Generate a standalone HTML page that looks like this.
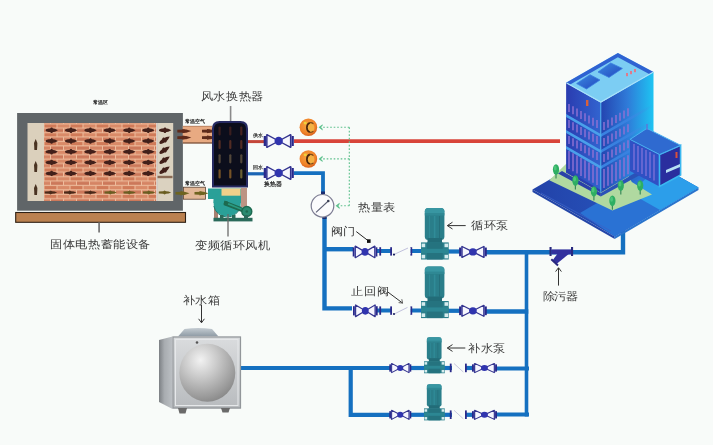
<!DOCTYPE html>
<html><head><meta charset="utf-8">
<style>
html,body{margin:0;padding:0;background:#f8fbf9;}
body{width:713px;height:445px;overflow:hidden;font-family:"Liberation Sans",sans-serif;}
svg{display:block;filter:blur(0.3px);}
text{font-family:"Liberation Sans",sans-serif;}
</style></head><body>
<svg width="713" height="445" viewBox="0 0 713 445">
<defs>
  <pattern id="brick" x="44" y="123.5" width="26" height="8.8" patternUnits="userSpaceOnUse">
    <rect width="26" height="8.8" fill="#eebc9c"/>
    <rect x="0.5" y="0.9" width="12" height="3.3" fill="#d07a58"/>
    <rect x="13.5" y="0.9" width="12" height="3.3" fill="#d98a68"/>
    <rect x="-6" y="5.3" width="12" height="3.3" fill="#d58464"/>
    <rect x="7" y="5.3" width="12" height="3.3" fill="#cc785a"/>
    <rect x="20" y="5.3" width="12" height="3.3" fill="#d58464"/>
  </pattern>
  <g id="harrow">
    <path d="M-6,0 C-6,-1.6 -2.5,-1.9 0,-2 C2.2,-2 4.6,-1.2 6.3,0 C4.6,1.2 2.2,2 0,2 C-2.5,1.9 -6,1.6 -6,0 Z"/>
    <rect x="-1.1" y="-2.7" width="2.2" height="5.4" rx="0.8"/>
  </g>
  <g id="harrow2">
    <path d="M-6,-1 L-1.5,-1.2 L-0.3,-2 L1.2,-1.2 L3.8,-1 L6.3,0 L3.8,1 L1.2,1.2 L-0.3,2 L-1.5,1.2 L-6,1 Z" />
  </g>
  <g id="valve">
    <rect x="0" y="-5" width="2.3" height="10" fill="#28288a"/>
    <rect x="27.8" y="-5" width="2.3" height="10" fill="#28288a"/>
    <rect x="2.2" y="-6.4" width="2" height="12.8" fill="#6c6cc4"/>
    <rect x="25.9" y="-6.4" width="2" height="12.8" fill="#6c6cc4"/>
    <path d="M3.2,-6.3 L15,0 L3.2,6.3 Z M26.9,-6.3 L15,0 L26.9,6.3 Z" fill="#f6f6fe" stroke="#34348e" stroke-width="1.4" stroke-linejoin="round"/>
    <circle cx="15" cy="0" r="4.2" fill="#3034ae"/>
  </g>
  <g id="pump">
    <rect x="3.8" y="0" width="19.6" height="32" rx="3.5" fill="#2a7e8a"/>
    <rect x="3.8" y="0" width="19.6" height="7" rx="3.5" fill="#3896a2"/>
    <rect x="3.8" y="5" width="19.6" height="2.5" fill="#2f8894"/>
    <rect x="8" y="8" width="1" height="22" fill="#2f8a96"/>
    <rect x="12.8" y="8" width="1.6" height="22" fill="#308c98"/>
    <rect x="18" y="8" width="1" height="22" fill="#246f7b"/>
    <rect x="6.5" y="30" width="14.5" height="5" fill="#226c78"/>
    <rect x="0" y="34.4" width="27.7" height="17.1" fill="#2a7f8b"/>
    <rect x="6" y="34.4" width="15.7" height="17.1" fill="#25737f"/>
    <rect x="0" y="40.8" width="27.7" height="4.2" fill="#2c8793"/>
    <rect x="0.6" y="35.6" width="3.6" height="3.6" fill="#d6ecee"/>
    <rect x="0.6" y="46.8" width="3.6" height="3.6" fill="#d6ecee"/>
    <rect x="23.5" y="35.6" width="3.6" height="3.6" fill="#d6ecee"/>
    <rect x="23.5" y="46.8" width="3.6" height="3.6" fill="#d6ecee"/>
  </g>
</defs>

<!-- ============ STORAGE UNIT ============ -->
<text x="93.2" y="103.5" font-size="5.2" font-weight="bold" fill="#111">常温区</text>
<rect x="17.1" y="113" width="165.8" height="97.7" fill="#606568"/>
<rect x="27.5" y="123" width="16.5" height="78" fill="#dbd0bc"/>
<rect x="44" y="123" width="112.5" height="78" fill="url(#brick)"/>
<rect x="156.3" y="123" width="1.4" height="78" fill="#fbf3ea"/>
<rect x="157.7" y="123" width="15.5" height="78" fill="#dbd2c0"/>
<!-- left arrows -->
<g fill="#4a3322">
  <path d="M35.7,139 L37.4,143 L37,150 L34.4,150 L34,143 Z"/>
  <path d="M35.7,161 L37.4,165 L37,172 L34.4,172 L34,165 Z"/>
  <path d="M35.7,184 L37.4,188 L37,195 L34.4,195 L34,188 Z"/>
</g>
<!-- brick arrows -->
<g fill="#42201a">
  <use href="#harrow" x="51.6" y="130.3"/><use href="#harrow" x="71" y="130.3"/><use href="#harrow" x="90.4" y="130.3"/><use href="#harrow" x="109.8" y="130.3"/><use href="#harrow" x="129.2" y="130.3"/><use href="#harrow" x="148.3" y="130.3"/>
  <use href="#harrow" x="51.6" y="141"/><use href="#harrow" x="71" y="141"/><use href="#harrow" x="90.4" y="141"/><use href="#harrow" x="109.8" y="141"/><use href="#harrow" x="129.2" y="141"/><use href="#harrow" x="148.3" y="141"/>
  <use href="#harrow" x="51.6" y="151.8"/><use href="#harrow" x="71" y="151.8"/><use href="#harrow" x="90.4" y="151.8"/><use href="#harrow" x="109.8" y="151.8"/><use href="#harrow" x="129.2" y="151.8"/><use href="#harrow" x="148.3" y="151.8"/>
  <use href="#harrow" x="51.6" y="162.4"/><use href="#harrow" x="71" y="162.4"/><use href="#harrow" x="90.4" y="162.4"/><use href="#harrow" x="109.8" y="162.4"/><use href="#harrow" x="129.2" y="162.4"/><use href="#harrow" x="148.3" y="162.4"/>
  <use href="#harrow" x="51.6" y="173.4"/><use href="#harrow" x="71" y="173.4"/><use href="#harrow" x="90.4" y="173.4"/><use href="#harrow" x="109.8" y="173.4"/><use href="#harrow" x="129.2" y="173.4"/><use href="#harrow" x="148.3" y="173.4"/>
  <use href="#harrow" x="165" y="130.3"/>
  <use href="#harrow" transform="translate(164.5,140) rotate(-35)"/>
  <use href="#harrow" transform="translate(164.5,150) rotate(-35)"/>
  <use href="#harrow" transform="translate(164.5,160) rotate(-35)"/>
  <use href="#harrow" transform="translate(164.5,170) rotate(-35)"/>
</g>
<rect x="157.5" y="175.8" width="15" height="2.4" fill="#8a6a55"/>
<g fill="#4a2a1a">
  <use href="#harrow2" x="50.8" y="192.5"/><use href="#harrow2" x="70" y="192.5"/><use href="#harrow2" x="90.5" y="192.5"/>
</g>
<g fill="#6a5e22">
  <use href="#harrow2" x="110.5" y="192.5"/><use href="#harrow2" x="129.5" y="192.5"/><use href="#harrow2" x="149" y="192.5"/><use href="#harrow2" x="164.8" y="192.5"/>
</g>
<!-- base -->
<rect x="15.7" y="212.5" width="169.8" height="9.8" fill="#bb8150" stroke="#2e2014" stroke-width="1.1"/>
<line x1="99.1" y1="222.5" x2="99.1" y2="232.6" stroke="#7a7a7a" stroke-width="1.8"/>
<text fill="#3a3a3a" transform="translate(50.18,248.02) scale(1,0.9)" font-size="12.24">固体电热蓄能设备</text>

<!-- ducts -->
<defs>
  <g id="darrow"><path d="M-7,-1.3 L2,-1.6 L7,0 L2,1.6 L-7,1.3 Z"/><path d="M-2,-2.2 L1,-1.5 L1,1.5 L-2,2.2 Z"/></g>
</defs>
<text x="185" y="122.5" font-size="5.3" font-weight="bold" fill="#111">常温空气</text>
<rect x="182.8" y="126" width="29.5" height="17.3" fill="#e8aa82"/>
<line x1="182.8" y1="126.3" x2="212.3" y2="126.3" stroke="#b07a5a" stroke-width="0.8"/>
<line x1="182.8" y1="143" x2="212.3" y2="143" stroke="#5a3422" stroke-width="1"/>
<g fill="#5e2a1a">
  <use href="#darrow" x="184.3" y="131.1"/><use href="#darrow" x="184.3" y="137.6"/>
  <use href="#darrow" x="209" y="131.1"/><use href="#darrow" x="209" y="137.6"/>
</g>
<text x="185.4" y="184.5" font-size="5.3" font-weight="bold" fill="#111">常温空气</text>
<rect x="183.4" y="187.2" width="22" height="12" fill="#e2b898" stroke="#5a4030" stroke-width="0.8"/>
<g fill="#6e6420">
  <use href="#darrow" x="182.5" y="193.3"/><use href="#darrow" x="201.5" y="193.3"/>
</g>

<!-- heat exchanger -->
<text fill="#3a3a3a" transform="translate(200.88,99.83) scale(1,0.9)" font-size="12.43">风水换热器</text>
<line x1="230.6" y1="106" x2="230.6" y2="121" stroke="#8a8a8a" stroke-width="1.6"/>
<path d="M212,187.5 L212,128.5 Q212,121 219.5,121 L240.5,121 Q248,121 248,128.5 L248,187.5 Z" fill="#262a62"/>
<path d="M214,185.5 L214,129 Q214,123 220,123 L240,123 Q246,123 246,129 L246,185.5 Z" fill="#0c0e1c"/>
<g stroke-width="2.2" stroke-linecap="round" opacity="0.75">
  <line x1="219.6" y1="127.5" x2="219.6" y2="134.5" stroke="#4a2420"/><line x1="230.3" y1="127.5" x2="230.3" y2="134.5" stroke="#4a2420"/><line x1="241.3" y1="127.5" x2="241.3" y2="134.5" stroke="#5a2a22"/>
  <line x1="219.6" y1="141" x2="219.6" y2="148" stroke="#6a3626"/><line x1="230.3" y1="141" x2="230.3" y2="148" stroke="#6a3626"/><line x1="241.3" y1="141" x2="241.3" y2="148" stroke="#6a3626"/>
  <line x1="219.6" y1="155.3" x2="219.6" y2="162.3" stroke="#6a5a44"/><line x1="230.3" y1="155.3" x2="230.3" y2="162.3" stroke="#6a5a44"/><line x1="241.3" y1="155.3" x2="241.3" y2="162.3" stroke="#6a5a44"/>
  <line x1="219.6" y1="170.4" x2="219.6" y2="177.4" stroke="#9a6a2a"/><line x1="230.3" y1="170.4" x2="230.3" y2="177.4" stroke="#9a6a2a"/><line x1="241.3" y1="170.4" x2="241.3" y2="177.4" stroke="#8a7a3a"/>
</g>

<!-- fan -->
<rect x="241" y="188" width="6" height="19" fill="#bc9484"/>
<rect x="214" y="205" width="4" height="13" fill="#a88070"/>
<path d="M208,188.5 L241,188.5 L241,203 L213.5,203 L213.5,199 L208,199 Z" fill="#2aa098"/>
<circle cx="227.2" cy="203" r="13.6" fill="#2aa098"/>
<path d="M213.8,206 A13.6,13.6 0 0 0 240.4,206.5" fill="none" stroke="#1f7a70" stroke-width="1"/>
<rect x="221.5" y="188.5" width="19" height="7.2" fill="#f0d08a"/>
<polygon points="224.5,200.5 246.3,209 245.5,213.5 223.5,205" fill="#1d6a50"/>
<polygon points="226,202 244,209.5 244,211 226,204" fill="#2a9a80"/>
<circle cx="226" cy="203.3" r="2.2" fill="#1d6a50"/>
<circle cx="246.8" cy="211.5" r="5" fill="#2a8a70" stroke="#1d6a50" stroke-width="1.4"/>
<circle cx="246.8" cy="211.5" r="1.3" fill="#1d6a50"/>
<rect x="213.5" y="217.8" width="39" height="3.6" fill="#2a6a5a"/>
<rect x="220" y="215" width="3.5" height="3" fill="#2a6a5a"/><rect x="232" y="215" width="3.5" height="3" fill="#2a6a5a"/><rect x="244" y="215" width="4" height="3" fill="#2a6a5a"/>
<line x1="228" y1="214" x2="228" y2="236.6" stroke="#6a6a6a" stroke-width="1.3"/>
<text fill="#3a3a3a" transform="translate(194.99,249.22) scale(1,0.9)" font-size="12.42">变频循环风机</text>

<!-- ============ PIPES ============ -->
<g fill="none" stroke-linejoin="miter" stroke-linecap="butt">
  <!-- red supply -->
  <line x1="248" y1="141.6" x2="264" y2="141.6" stroke="#c4463a" stroke-width="3"/>
  <line x1="294" y1="141.2" x2="560" y2="141.2" stroke="#d8443a" stroke-width="3.8"/>
  <!-- blue return -->
  <line x1="248" y1="173.8" x2="264" y2="173.8" stroke="#1a64b4" stroke-width="3.2"/>
  <path d="M293.6,173.2 L323,173.2 L323,194" stroke="#1570c0" stroke-width="3.8"/>
  <path d="M324.5,217 L324.5,308.4 L352,308.4" stroke="#1570c0" stroke-width="4.4"/>
  <line x1="324.5" y1="249.2" x2="353" y2="249.2" stroke="#1570c0" stroke-width="4.4"/>
  <!-- branch 1 -->
  <line x1="377" y1="251.1" x2="421" y2="251.1" stroke="#1570c0" stroke-width="4"/>
  <line x1="448" y1="251.5" x2="460" y2="251.5" stroke="#1570c0" stroke-width="4.2"/>
  <path d="M486,252.3 L623,252.3 L623,228" stroke="#1570c0" stroke-width="4.4"/>
  <!-- branch 2 -->
  <line x1="377" y1="310.6" x2="421" y2="310.6" stroke="#1570c0" stroke-width="4"/>
  <line x1="448" y1="310.8" x2="460" y2="310.8" stroke="#1570c0" stroke-width="4.2"/>
  <line x1="486" y1="311.5" x2="528.3" y2="311.5" stroke="#1570c0" stroke-width="4.4"/>
  <!-- right vertical -->
  <line x1="526.5" y1="252" x2="526.5" y2="416.5" stroke="#1570c0" stroke-width="3.6"/>
  <!-- makeup -->
  <line x1="241" y1="368" x2="391" y2="368" stroke="#1570c0" stroke-width="4.2"/>
  <path d="M350.7,368 L350.7,414.8 L391,414.8" stroke="#1570c0" stroke-width="4.2"/>
  <line x1="410" y1="368" x2="425" y2="368" stroke="#1570c0" stroke-width="4.2"/>
  <line x1="410" y1="414.8" x2="425" y2="414.8" stroke="#1570c0" stroke-width="4.2"/>
  <line x1="494" y1="368.5" x2="529" y2="368.5" stroke="#1570c0" stroke-width="4"/>
  <line x1="494" y1="414.5" x2="529" y2="414.5" stroke="#1570c0" stroke-width="4"/>
  <line x1="443" y1="368" x2="452" y2="368" stroke="#1570c0" stroke-width="4.2"/>
  <line x1="443" y1="414.8" x2="452" y2="414.8" stroke="#1570c0" stroke-width="4.2"/>
  <line x1="466" y1="368" x2="475" y2="368" stroke="#1570c0" stroke-width="4.2"/>
  <line x1="466" y1="414.8" x2="475" y2="414.8" stroke="#1570c0" stroke-width="4.2"/>
</g>
<rect x="321" y="191.5" width="4" height="2.5" fill="#1a2a70"/>
<rect x="322.5" y="217" width="4" height="2" fill="#1a2a70"/>

<!-- HX valves -->
<use href="#valve" transform="translate(263.7,141)"/>
<use href="#valve" transform="translate(263.7,173)"/>
<text x="252.8" y="136.6" font-size="4.7" font-weight="bold" fill="#222">供水</text>
<text x="252.8" y="168.6" font-size="4.7" font-weight="bold" fill="#222">回水</text>
<text x="264" y="186.2" font-size="5.7" font-weight="bold" fill="#222">换热器</text>

<!-- thermometers -->
<defs>
  <radialGradient id="tg" cx="0.45" cy="0.4" r="0.6">
    <stop offset="0" stop-color="#f7a440"/><stop offset="0.75" stop-color="#ef8228"/><stop offset="1" stop-color="#d8601c"/>
  </radialGradient>
</defs>
<defs>
  <g id="thermo">
    <circle cx="0" cy="0" r="8.8" fill="url(#tg)"/>
    <ellipse cx="2" cy="0.5" rx="4" ry="4.6" fill="#f4b244"/>
    <path d="M1.5,-4.6 A4.2,5 0 0 0 1.5,5" fill="none" stroke="#4a260a" stroke-width="1.7"/>
    <path d="M1.5,-4.6 Q3.8,-4.8 5,-3.4 M1.5,5 Q3.8,5.2 5,3.8" fill="none" stroke="#7a4a1a" stroke-width="1.1"/>
    <ellipse cx="-3.2" cy="-4.2" rx="1.6" ry="1.4" fill="#eed23a"/>
  </g>
</defs>
<use href="#thermo" x="308.4" y="127.3"/>
<use href="#thermo" x="308.4" y="159"/>

<!-- green dashed -->
<g stroke="#5cc08c" stroke-width="1.1" stroke-dasharray="1.6,1.9" fill="none">
  <path d="M349.3,127.3 L349.3,205.8"/>
  <path d="M349.3,127.3 L321,127.3"/>
  <path d="M349.3,158.9 L321,158.9"/>
  <path d="M349.3,205.8 L338,205.8"/>
</g>
<g fill="#5cc08c">
  <path d="M318.6,127.3 L322.6,124.2 L322.6,125.8 L320.8,127.3 L322.6,128.8 L322.6,130.4 Z"/>
  <path d="M318.6,158.9 L322.6,155.8 L322.6,157.4 L320.8,158.9 L322.6,160.4 L322.6,162 Z"/>
  <path d="M335.6,205.8 L339.6,202.7 L339.6,204.3 L337.8,205.8 L339.6,207.3 L339.6,208.9 Z"/>
</g>

<!-- flow meter -->
<circle cx="322.5" cy="205.8" r="11.3" fill="#fbfbfd" stroke="#7c7c92" stroke-width="1.2"/>
<line x1="316" y1="212.3" x2="328.3" y2="201" stroke="#5a5e74" stroke-width="1.1"/>
<circle cx="328.3" cy="201" r="1.3" fill="#3a3e54"/>
<text fill="#3a3a3a" transform="translate(358.09,211.19) scale(1,0.9)" font-size="12.31">热量表</text>

<!-- branch valves / pumps -->
<use href="#valve" transform="translate(352.7,251.9) scale(0.82,0.92)"/>
<use href="#valve" transform="translate(353,310.8) scale(0.82,0.92)"/>
<use href="#valve" transform="translate(459.1,251.9) scale(0.92,0.87)"/>
<use href="#valve" transform="translate(459.1,310.8) scale(0.92,0.87)"/>
<g fill="#2a2a8a">
  <rect x="379.3" y="247.2" width="1.8" height="8.4"/><rect x="390.2" y="247.2" width="1.8" height="8.4"/><rect x="410.4" y="247.2" width="1.8" height="8.4"/>
  <rect x="379.3" y="306.4" width="1.8" height="8.4"/><rect x="390.2" y="306.4" width="1.8" height="8.4"/><rect x="410.4" y="306.4" width="1.8" height="8.4"/>
</g>
<rect x="392" y="248" width="18.4" height="6" fill="#f8fbf9"/>
<rect x="392" y="307.5" width="18.4" height="6" fill="#f8fbf9"/>
<circle cx="394" cy="254.6" r="1.1" fill="#1a2060"/>
<circle cx="394" cy="314" r="1.1" fill="#1a2060"/>
<line x1="395" y1="254" x2="408" y2="248" stroke="#c0c0dc" stroke-width="1"/>
<line x1="395" y1="313.6" x2="407.5" y2="307.4" stroke="#c0c0dc" stroke-width="1"/>
<use href="#pump" transform="translate(421,208)"/>
<use href="#pump" transform="translate(421,266.6)"/>

<!-- annotations -->
<text fill="#3a3a3a" transform="translate(331.40,235.35) scale(1,0.9)" font-size="11.94">阀门</text>
<line x1="356.3" y1="231.6" x2="368.5" y2="241" stroke="#222" stroke-width="1"/>
<rect x="367" y="239.3" width="3.6" height="3.6" fill="#111"/>
<line x1="447.5" y1="225.6" x2="465.7" y2="225.6" stroke="#333" stroke-width="1"/>
<path d="M452.5,222.2 L447.3,225.6 L452.5,229" fill="none" stroke="#333" stroke-width="1"/>
<text fill="#3a3a3a" transform="translate(470.99,229.19) scale(1,0.9)" font-size="12.44">循环泵</text>
<text fill="#3a3a3a" transform="translate(351.29,295.31) scale(1,0.9)" font-size="12.42">止回阀</text>
<line x1="387.7" y1="291.9" x2="402.6" y2="303.1" stroke="#333" stroke-width="1"/>
<path d="M398.6,302.6 L402.6,303.1 L401.8,299.2" fill="none" stroke="#555" stroke-width="0.9"/>

<!-- strainer -->
<rect x="549.5" y="247" width="2.1" height="9" fill="#28287e"/>
<rect x="571" y="247" width="2.1" height="9" fill="#28287e"/>
<rect x="551.5" y="249.4" width="19.6" height="4.8" fill="#32309e"/>
<path d="M558,253 L570,253 L556.5,264 L552.5,260.5 Z" fill="#32309e"/>
<line x1="551.3" y1="259.3" x2="558" y2="265.5" stroke="#28287e" stroke-width="2"/>
<line x1="558.5" y1="268" x2="558.5" y2="285.6" stroke="#333" stroke-width="1"/>
<path d="M555.6,271.6 L558.5,267.7 L561.4,271.6" fill="none" stroke="#333" stroke-width="1"/>
<text fill="#3a3a3a" transform="translate(542.51,299.60) scale(1,0.9)" font-size="11.86">除污器</text>

<!-- makeup pumps -->
<use href="#valve" transform="translate(389.3,368) scale(0.73)"/>
<use href="#valve" transform="translate(389.3,414.8) scale(0.73)"/>
<use href="#valve" transform="translate(472,368) scale(0.83,0.73)"/>
<use href="#valve" transform="translate(472,414.8) scale(0.83,0.73)"/>
<use href="#pump" transform="translate(424,337.2) scale(0.75,0.7)"/>
<use href="#pump" transform="translate(424,384.3) scale(0.75,0.7)"/>
<g fill="#2a2a8a">
  <rect x="449.8" y="363.6" width="1.8" height="8.6"/><rect x="465" y="363.6" width="1.8" height="8.6"/>
  <rect x="449.8" y="410.4" width="1.8" height="8.6"/><rect x="465" y="410.4" width="1.8" height="8.6"/>
</g>
<rect x="452" y="364" width="12.8" height="8" fill="#f8fbf9"/>
<rect x="452" y="410.8" width="12.8" height="8" fill="#f8fbf9"/>
<line x1="454" y1="363.5" x2="463.3" y2="372" stroke="#c8c8de" stroke-width="1"/>
<line x1="454" y1="410.3" x2="463.3" y2="418.8" stroke="#c8c8de" stroke-width="1"/>
<line x1="447.5" y1="348" x2="465.3" y2="348" stroke="#333" stroke-width="1"/>
<path d="M452.5,344.6 L447.3,348 L452.5,351.4" fill="none" stroke="#333" stroke-width="1"/>
<text fill="#3a3a3a" transform="translate(468.19,352.00) scale(1,0.9)" font-size="12.34">补水泵</text>

<!-- water tank -->
<text fill="#3a3a3a" transform="translate(182.59,303.63) scale(1,0.9)" font-size="12.31">补水箱</text>
<line x1="201.5" y1="305" x2="201.5" y2="322.6" stroke="#333" stroke-width="1"/>
<path d="M198.6,318.8 L201.5,322.8 L204.4,318.8" fill="none" stroke="#333" stroke-width="1"/>
<defs>
  <radialGradient id="sph" cx="0.38" cy="0.28" r="0.85">
    <stop offset="0" stop-color="#f2f2f2"/><stop offset="0.35" stop-color="#cacaca"/><stop offset="0.75" stop-color="#9a9a9a"/><stop offset="1" stop-color="#7a7a7a"/>
  </radialGradient>
  <linearGradient id="tankside" x1="0" x2="1">
    <stop offset="0" stop-color="#7c8084"/><stop offset="0.4" stop-color="#a8acb0"/><stop offset="1" stop-color="#bcc0c4"/>
  </linearGradient>
  <linearGradient id="tankfront" x1="0" y1="0" x2="0" y2="1">
    <stop offset="0" stop-color="#dadcde"/><stop offset="1" stop-color="#b8bbbe"/>
  </linearGradient>
  <linearGradient id="lidG" x1="0" y1="0" x2="0" y2="1">
    <stop offset="0" stop-color="#c4ccd2"/><stop offset="1" stop-color="#8e9aa4"/>
  </linearGradient>
</defs>
<path d="M178,336.5 L184.5,329 Q198,327.2 212,329 L218.5,336.5 Z" fill="url(#lidG)"/>
<path d="M159,340 L172.5,336.5 L172.5,409 L159,402 Z" fill="url(#tankside)"/>
<rect x="172.5" y="336.5" width="68.5" height="72" fill="url(#tankfront)"/>
<rect x="173" y="337" width="67.5" height="71" fill="none" stroke="#92969a" stroke-width="1.2"/>
<rect x="175.5" y="339.5" width="62.5" height="66" fill="none" stroke="#e6e8ea" stroke-width="1"/>
<ellipse cx="207.3" cy="372.8" rx="28" ry="29" fill="url(#sph)"/>
<circle cx="197" cy="342.5" r="1.3" fill="#555"/>
<path d="M178,408 L187,408 L185.5,413.5 L179.5,413.5 Z" fill="#6a6a6a"/>
<path d="M221,408 L230,408 L228.5,412.5 L222.5,412.5 Z" fill="#6a6a6a"/>

<!-- ============ BUILDING ============ -->
<defs>
  <linearGradient id="platG" x1="0" y1="0" x2="1" y2="0">
    <stop offset="0" stop-color="#2242a8"/><stop offset="0.45" stop-color="#2650b8"/><stop offset="0.65" stop-color="#2a70d2"/><stop offset="1" stop-color="#2aa4ea"/>
  </linearGradient>
  <linearGradient id="towerL" x1="0" y1="0" x2="1" y2="0">
    <stop offset="0" stop-color="#2a3cb0"/><stop offset="1" stop-color="#3264d0"/>
  </linearGradient>
  <linearGradient id="towerR" x1="0" y1="0" x2="1" y2="0">
    <stop offset="0" stop-color="#2444b0"/><stop offset="0.5" stop-color="#2f7ad8"/><stop offset="1" stop-color="#1ec4f2"/>
  </linearGradient>
  <linearGradient id="skyG" x1="0" y1="0" x2="1" y2="1">
    <stop offset="0" stop-color="#3a8ae0"/><stop offset="1" stop-color="#2448c0"/>
  </linearGradient>
  <g id="tree">
    <rect x="-0.6" y="-5" width="1.2" height="5" fill="#3a8a5a"/>
    <ellipse cx="0" cy="-9" rx="3.1" ry="5.2" fill="#2eae62"/>
    <ellipse cx="-0.8" cy="-10.5" rx="1.4" ry="2.6" fill="#4cc47a"/>
  </g>
</defs>
<g id="building">
  <!-- platform thickness -->
  <polygon points="532.5,189.5 614.7,236.5 614.7,239 532.5,192" fill="#2446a8"/>
  <polygon points="614.7,236.5 698.5,187.5 698.5,190 614.7,239" fill="#2a74cc"/>
  <!-- platform top -->
  <polygon points="532.5,189.5 616,141 698.5,187.5 614.7,236.5" fill="url(#platG)"/>
  <polygon points="614.7,236.5 698.5,187.5 660,166 580,213" fill="#2a72d4"/>
  <polygon points="660,166 698.5,187.5 660,210 630,193" fill="#2c9eea"/>
  <line x1="541" y1="193" x2="611" y2="231" stroke="#3a62c8" stroke-width="0.8"/>
  <!-- lawn -->
  <polygon points="549.3,180.2 612.4,210.5 652,194.5 631.8,181.9 620,160 566,164" fill="#b0d9a0"/>
  <!-- plinth -->
  <polygon points="562,171 600.8,193 600.8,196.5 558,173.5" fill="#2a40a8"/>
  <polygon points="600.8,193 636,172.5 640,175 600.8,196.5" fill="#2a52b8"/>
  <!-- tower left face -->
  <polygon points="566.1,82.7 600.8,102.5 600.8,192.5 566.1,172.5" fill="url(#towerL)"/>
  <!-- tower right face -->
  <polygon points="600.8,102.5 653.5,72 653.5,162 600.8,192.5" fill="url(#towerR)"/>
  <!-- ground floor darker -->
  <polygon points="566.1,170 600.8,190 600.8,192.5 566.1,172.5" fill="#2a3fb0"/>
  <!-- floor bands left face -->
  <g fill="#4aa0ea">
    <polygon points="566.1,114 600.8,134 600.8,137 566.1,117"/>
    <polygon points="566.1,130 600.8,150 600.8,153 566.1,133"/>
    <polygon points="566.1,146 600.8,166 600.8,169 566.1,149"/>
  </g>
  <defs><linearGradient id="bandR" x1="0" x2="1"><stop offset="0" stop-color="#3a84e2" stop-opacity="1"/><stop offset="0.55" stop-color="#3a84e2" stop-opacity="0.8"/><stop offset="1" stop-color="#3a9ee8" stop-opacity="0"/></linearGradient></defs>
  <g fill="url(#bandR)">
    <polygon points="600.8,134 653.5,103.5 653.5,106.5 600.8,137"/>
    <polygon points="600.8,150 653.5,119.5 653.5,122.5 600.8,153"/>
    <polygon points="600.8,166 653.5,135.5 653.5,138.5 600.8,169"/>
  </g>
  <!-- window slats (purple) -->
  <g stroke="#9072d4" stroke-width="1.5" opacity="0.95">
    <path d="M569,104 v8 M573,106.3 v8 M577,108.6 v8 M581,110.9 v8 M585,113.2 v8 M589,115.5 v8 M593,117.8 v8 M597,120.1 v8"/>
    <path d="M569,120 v8 M573,122.3 v8 M577,124.6 v8 M581,126.9 v8 M585,129.2 v8 M589,131.5 v8 M593,133.8 v8 M597,136.1 v8"/>
    <path d="M569,136 v8 M573,138.3 v8 M577,140.6 v8 M581,142.9 v8 M585,145.2 v8 M589,147.5 v8 M593,149.8 v8 M597,152.1 v8"/>
    <path d="M569,151 v18 M573,153.3 v18 M577,155.6 v18 M581,157.9 v18 M585,160.2 v18 M589,162.5 v18 M593,164.8 v18 M597,167.1 v18"/>
    <path d="M604,130 v-8 M608,127.7 v-8 M612,125.4 v-8 M616,123.1 v-8 M620,120.8 v-8 M624,118.5 v-8 M628,116.2 v-8"/>
    <path d="M604,146 v-8 M608,143.7 v-8 M612,141.4 v-8 M616,139.1 v-8 M620,136.8 v-8 M624,134.5 v-8 M628,132.2 v-8"/>
    <path d="M604,162 v-8 M608,159.7 v-8 M612,157.4 v-8 M616,155.1 v-8 M620,152.8 v-8 M624,150.5 v-8 M628,148.2 v-8"/>
    <path d="M604,188 v-19 M608,185.7 v-19 M612,183.4 v-19 M616,181.1 v-19 M620,178.8 v-19 M624,176.5 v-19 M628,174.2 v-19"/>
  </g>
  <rect x="586" y="100" width="2.4" height="6" fill="#d8603a"/>
  <!-- front edge highlight -->
  <line x1="600.8" y1="102.5" x2="600.8" y2="192.5" stroke="#4ab6f0" stroke-width="1"/>
  <!-- roof -->
  <polygon points="566.1,82.7 617.9,53.1 653.5,72 600.8,102.5" fill="#7ccdf3"/>
  <polygon points="566.1,82.7 617.9,53.1 653.5,72 649.6,74.2 617.9,57.3 570.2,84.6" fill="#2f62d2"/>
  <polyline points="566.6,83 600.8,102 653,72.3" fill="none" stroke="#a8e2fa" stroke-width="1.2"/>
  <polygon points="576.6,83.6 590,74.7 600,80 586.5,89" fill="url(#skyG)" stroke="#3a7ee0" stroke-width="0.8" stroke-linejoin="round"/>
  <polygon points="598,72 610.7,63 622.4,68.4 609,77.4" fill="url(#skyG)" stroke="#3a7ee0" stroke-width="0.8" stroke-linejoin="round"/>
  <g fill="#e07a8a"><rect x="626" y="73" width="2" height="3.2"/><rect x="630" y="71" width="2" height="3.2"/><rect x="634" y="69" width="2" height="3.2"/></g>
  <!-- annex -->
  <polygon points="630,139.4 659.5,154.5 659.5,186.5 630,171" fill="#3050c4"/>
  <g stroke="#7a70d8" stroke-width="1.4">
    <path d="M634,144 v26 M638,146 v26 M642,148 v26 M646,150 v26 M650,152 v26 M654,154.5 v26"/>
  </g>
  <polygon points="659.5,154.5 680.6,145.3 680.6,175 659.5,186.5" fill="#2a2e9e"/>
  <polygon points="659.5,154.5 680.6,145.3 680.6,175 659.5,186.5" fill="none" stroke="#3ab8f0" stroke-width="1.6"/>
  <rect x="675.5" y="152" width="2" height="6" fill="#d8503a"/>
  <polygon points="666,170 680,164 680,167 666,173" fill="#b8e0f4"/>
  <polygon points="630,139.4 646.9,128.4 680.6,145.3 659.5,154.5" fill="#2f6ad0" stroke="#4ab0f0" stroke-width="1"/>
  <line x1="647" y1="130" x2="647" y2="124" stroke="#5a7ad8" stroke-width="1.5"/>
  <!-- trees -->
  <use href="#tree" x="556" y="178.5"/>
  <use href="#tree" x="575.4" y="189.5"/>
  <use href="#tree" x="593.9" y="200.4"/>
  <use href="#tree" x="612.4" y="209.7"/>
  <use href="#tree" x="620.8" y="194.5"/>
  <use href="#tree" x="640.2" y="194.5"/>
</g>
</svg>
</body></html>
